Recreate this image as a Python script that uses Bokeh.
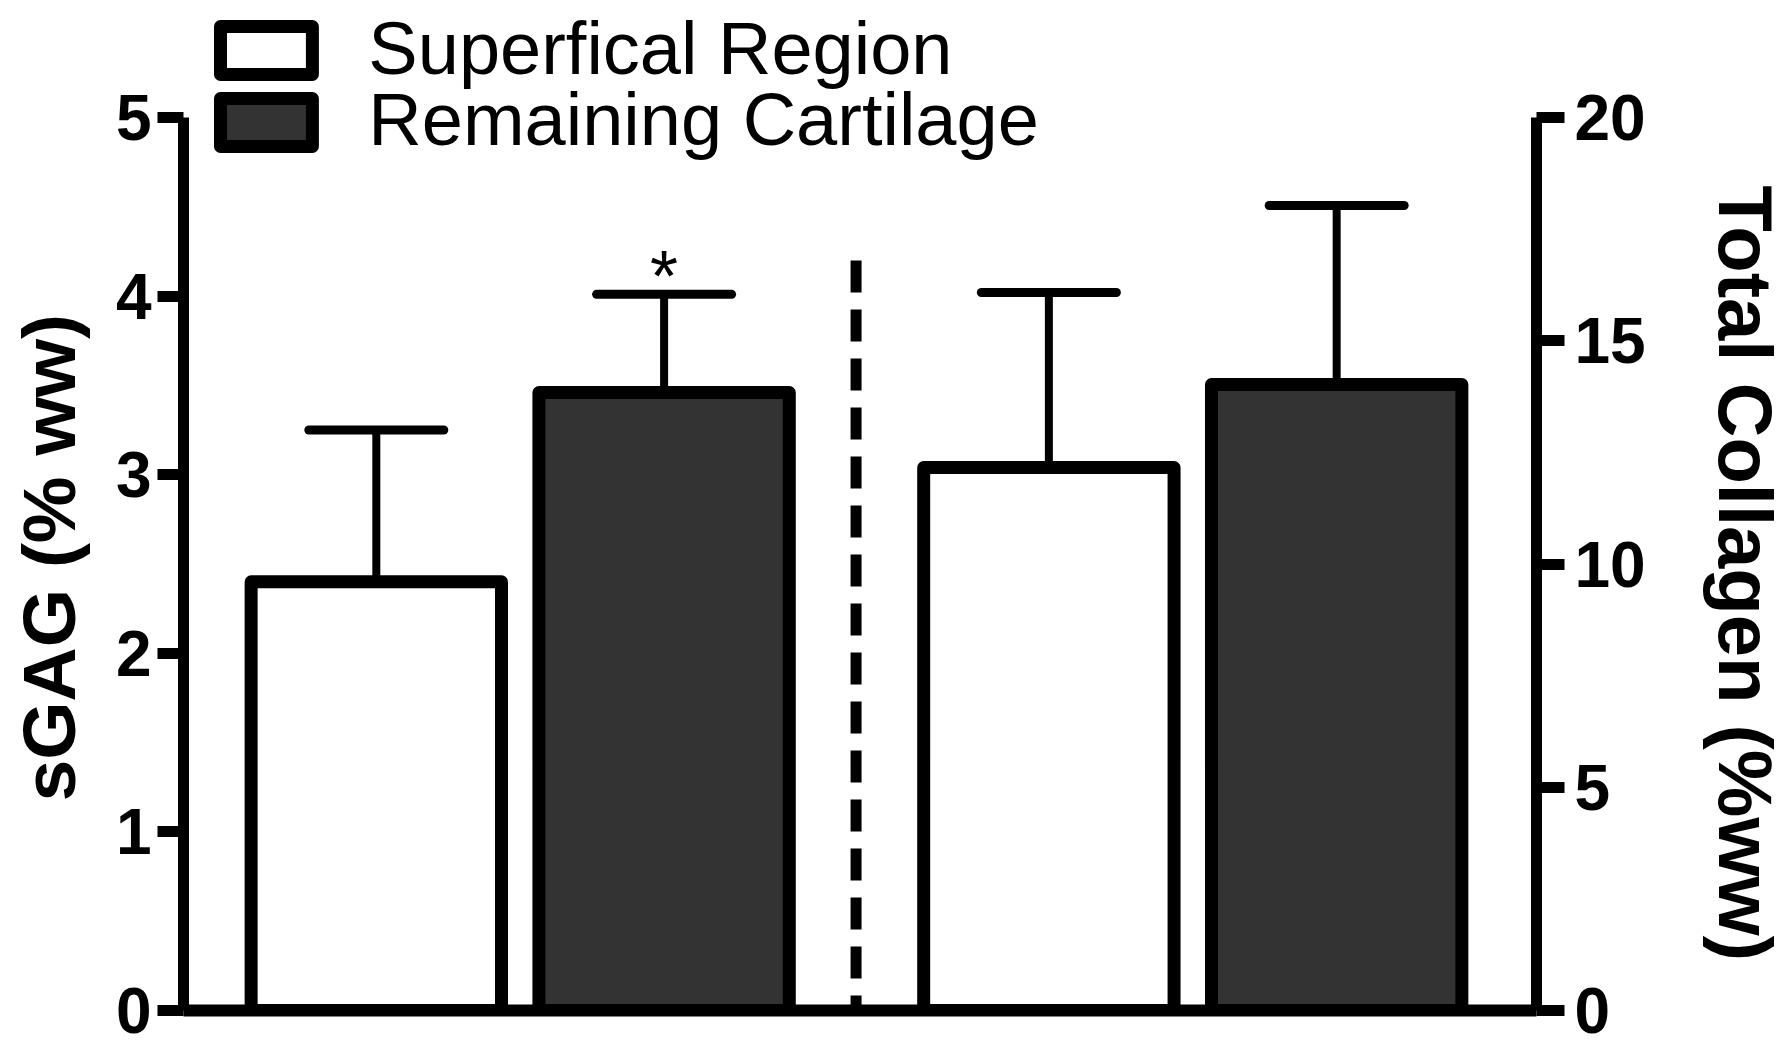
from bokeh.plotting import figure
from bokeh.models import (Range1d, LinearAxis, FixedTicker, Whisker, TeeHead,
                          ColumnDataSource, Title)
from bokeh.core.properties import value
from bokeh.embed import file_html
from bokeh.resources import INLINE

# ---- data ----
regions = ["Superfical Region", "Remaining Cartilage"]
sgag_mean = [2.40, 3.46]          # sGAG (% ww), left axis
sgag_err = [0.85, 0.55]
coll_mean = [12.16, 14.02]        # Total Collagen (% ww), right axis
coll_err = [3.92, 4.01]
sig_marks = ["", "*"]             # significance over sGAG bars
left_ticks = [0, 1, 2, 3, 4, 5]
right_ticks = [0, 5, 10, 15, 20]
left_title = "sGAG (% ww)"
right_title = "Total Collagen (%ww)"
fills = ["#ffffff", "#333333"]

FONT = "Liberation Sans"
W, H = 1789, 1046
F_LEFT, F_RIGHT, F_TOP, F_BOT = 183, 1537, 4, 1010   # frame edges (page px)
PX_Y = (F_BOT - 117) / 5.0
PX_X = 288.0
Y_TOP = (F_BOT - F_TOP) / PX_Y
X0 = 0.33
X1 = X0 + (F_RIGHT - F_LEFT) / PX_X

def xd(px):   # page px -> data x
    return X0 + (px - F_LEFT) / PX_X

def yd(py):   # page px -> data y (left units)
    return (F_BOT - py) / PX_Y

p = figure(width=W, height=H, output_backend="svg", toolbar_location=None,
           x_range=Range1d(X0, X1), y_range=Range1d(0, Y_TOP),
           min_border_left=F_LEFT, min_border_right=W - F_RIGHT,
           min_border_top=F_TOP, min_border_bottom=H - F_BOT)
p.extra_y_ranges = {"right": Range1d(0, Y_TOP * 4)}
p.outline_line_color = None
p.grid.visible = False
p.background_fill_color = "white"
p.border_fill_color = "white"

# x positions for the two groups
x_sgag = [1.0, 2.0]
x_coll = [3.337, 4.337]
x_div = 2.667

BW = 0.87
src_s = ColumnDataSource(dict(x=x_sgag, top=sgag_mean,
                              up=[m + e for m, e in zip(sgag_mean, sgag_err)],
                              fill=fills, mark=sig_marks))
src_s.data["mark_y"] = [u + 18 / PX_Y for u in src_s.data["up"]]
src_c = ColumnDataSource(dict(x=x_coll, top=coll_mean,
                              up=[m + e for m, e in zip(coll_mean, coll_err)],
                              fill=fills))

# error bars (upper only)
for src, rng in ((src_s, "default"), (src_c, "right")):
    w = Whisker(source=src, base="x", lower="top", upper="up", dimension="height",
                line_width=8, line_color="black",
                upper_head=TeeHead(size=135, line_width=9, line_color="black", line_cap="round"),
                lower_head=None, y_range_name=rng, level="glyph")
    p.add_layout(w)

p.vbar(x="x", top="top", bottom=0, width=BW, source=src_s, fill_color="fill",
       line_color="black", line_width=13, line_join="round")
p.vbar(x="x", top="top", bottom=0, width=BW, source=src_c, fill_color="fill",
       line_color="black", line_width=13, line_join="round", y_range_name="right")

# significance marker
p.text(x="x", y="mark_y", text="mark", source=src_s, text_font=value(FONT),
       text_font_size="72px", text_align="center", text_baseline="middle",
       text_color="black")

# dashed divider
p.segment(x0=[x_div], y0=[4.2], x1=[x_div], y1=[-0.1], line_color="black",
          line_width=11, line_dash="32 17", line_cap="butt")

# legend (drawn by hand)
leg_x = xd(266)
p.rect(x=[leg_x, leg_x], y=[yd(50), yd(122)], width=92 / PX_X, height=48 / PX_Y,
       fill_color=fills, line_color="black", line_width=13, line_join="round")
p.text(x=[xd(368)] * 2, y=[yd(48), yd(119)], text=regions, text_font=value(FONT),
       text_font_size="74px", text_baseline="middle", text_align="left",
       text_color="black")

# axes
def style_axis(ax, ticks, bounds, tick_out, standoff, spacer):
    ax.ticker = FixedTicker(ticks=ticks)
    ax.bounds = bounds
    ax.axis_line_width = 11
    ax.major_tick_line_width = 11
    ax.major_tick_out = tick_out
    ax.major_tick_in = 0
    ax.minor_tick_line_color = None
    ax.major_label_text_font = FONT
    ax.major_label_text_font_style = "bold"
    ax.major_label_text_font_size = "64px"
    ax.major_label_text_color = "black"
    ax.major_label_standoff = standoff
    # blank axis label used only as a spacer between tick labels and title
    ax.axis_label = " "
    ax.axis_label_text_font_size = "1px"
    ax.axis_label_standoff = spacer

ly = p.yaxis[0]
style_axis(ly, left_ticks, (0, 5), 26, 6, 18)

ry = LinearAxis(y_range_name="right")
style_axis(ry, right_ticks, (0, 20), 28, 10, 50)
p.add_layout(ry, "right")

bx = p.xaxis[0]
bx.ticker = FixedTicker(ticks=[])
bx.axis_line_width = 12
bx.major_label_text_font_size = "0px"
bx.major_tick_line_color = None
bx.major_tick_out = 0
bx.major_tick_in = 0
bx.major_label_standoff = 0
bx.axis_label_standoff = 0
bx.minor_tick_line_color = None

# axis titles
p.add_layout(Title(text=left_title, align="left", text_font=FONT,
                   text_font_style="bold", text_font_size="75px",
                   text_color="black", standoff=0, offset=F_BOT - 801), "left")
p.add_layout(Title(text=right_title, align="left", text_font=FONT,
                   text_font_style="bold", text_font_size="76px",
                   text_color="black", standoff=0, offset=181), "right")

open("out.html", "w").write(file_html(p, INLINE))
